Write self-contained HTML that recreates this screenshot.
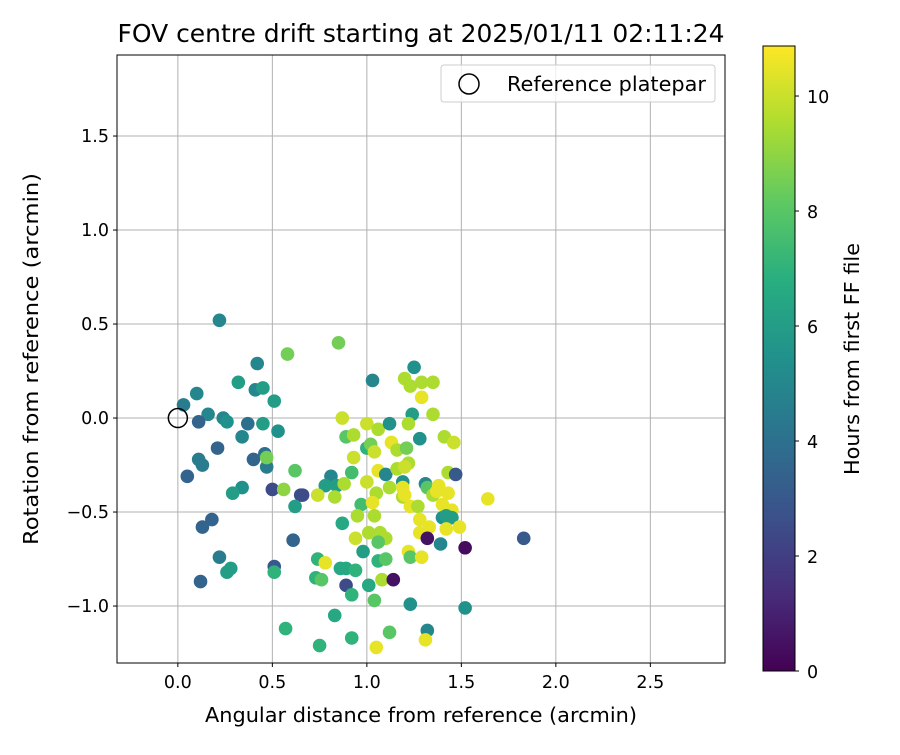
<!DOCTYPE html>
<html><head><meta charset="utf-8"><style>
body{margin:0;background:#fff;}
svg text{font-family:"DejaVu Sans","Liberation Sans",sans-serif;fill:#000;}
</style></head><body>
<svg id="chart" width="900" height="750" xmlns="http://www.w3.org/2000/svg">
<defs>
<linearGradient id="vir" x1="0" y1="1" x2="0" y2="0">
<stop offset="0" stop-color="#440154"/><stop offset="0.125" stop-color="#472d7b"/><stop offset="0.25" stop-color="#3b528b"/><stop offset="0.375" stop-color="#2c728e"/><stop offset="0.5" stop-color="#21918c"/><stop offset="0.625" stop-color="#28ae80"/><stop offset="0.75" stop-color="#5ec962"/><stop offset="0.875" stop-color="#addc30"/><stop offset="1" stop-color="#fde725"/>
</linearGradient>
<clipPath id="pc"><rect x="117" y="55" width="608" height="608"/></clipPath>
</defs>
<rect x="0" y="0" width="900" height="750" fill="#fff"/>
<g id="grid"></g>
<g id="pts" clip-path="url(#pc)"></g>
<rect x="117" y="55" width="608" height="608" fill="none" stroke="#000" stroke-width="1"/>
<g id="ticks"></g>
<text x="421" y="42" font-size="25" text-anchor="middle" textLength="607" lengthAdjust="spacingAndGlyphs">FOV centre drift starting at 2025/01/11 02:11:24</text>
<text x="421" y="722" font-size="20.5" text-anchor="middle" textLength="432" lengthAdjust="spacingAndGlyphs">Angular distance from reference (arcmin)</text>
<text transform="translate(38,359) rotate(-90)" font-size="20.5" text-anchor="middle" textLength="372" lengthAdjust="spacingAndGlyphs">Rotation from reference (arcmin)</text>
<g>
<rect x="441" y="65" width="274" height="37" rx="3" fill="#fff" fill-opacity="0.8" stroke="#ccc"/>
<circle cx="469" cy="84" r="10" fill="none" stroke="#000" stroke-width="1.5"/>
<text x="507" y="91" font-size="20" textLength="199" lengthAdjust="spacingAndGlyphs">Reference platepar</text>
</g>
<rect x="763" y="46" width="32" height="625" fill="url(#vir)" stroke="#000" stroke-width="1"/>
<g id="cbt"></g>
<text transform="translate(859,359) rotate(-90)" font-size="20" text-anchor="middle" textLength="232" lengthAdjust="spacingAndGlyphs">Hours from first FF file</text>
</svg>
<script>
const xVals=[0.22,0.58,0.42,0.32,0.41,0.45,0.10,0.03,0.51,0.16,0.11,0.24,0.26,0.37,0.45,0.53,0.34,0.21,0.11,0.13,0.05,0.40,0.46,0.47,0.47,0.62,0.34,0.29,0.50,0.56,0.65,0.62,0.13,0.18,0.61,0.22,0.28,0.26,0.51,0.51,0.12,0.57,0.75,0.83,0.74,0.78,0.73,0.76,
0.85,1.25,1.03,1.20,1.23,1.29,1.35,1.29,0.87,1.00,1.06,1.12,1.24,1.22,1.35,0.89,0.93,1.28,1.41,1.46,1.00,1.02,1.04,1.13,1.16,1.21,0.93,1.22,1.06,1.10,1.16,1.20,1.43,1.47,0.81,0.92,0.78,0.84,0.88,1.00,0.66,0.74,0.83,1.05,1.12,1.19,1.19,1.31,1.32,1.38,1.43,1.35,1.37,1.19,1.20,0.97,1.03,1.23,1.27,1.40,1.45,0.95,1.04,1.40,1.42,1.45,0.87,1.28,1.33,1.28,1.42,1.49,1.01,1.07,1.10,0.94,1.06,1.32,1.39,1.52,0.98,1.22,1.23,1.29,1.06,1.10,0.86,0.89,0.94,0.89,1.01,1.08,1.14,0.92,1.04,1.23,1.52,1.12,1.32,1.31,0.92,1.05,1.64,1.83];
const yVals=[0.52,0.34,0.29,0.19,0.15,0.16,0.13,0.07,0.09,0.02,-0.02,0.00,-0.02,-0.03,-0.03,-0.07,-0.10,-0.16,-0.22,-0.25,-0.31,-0.22,-0.19,-0.26,-0.21,-0.28,-0.37,-0.40,-0.38,-0.38,-0.41,-0.47,-0.58,-0.54,-0.65,-0.74,-0.80,-0.82,-0.79,-0.82,-0.87,-1.12,-1.21,-1.05,-0.75,-0.77,-0.85,-0.86,
0.40,0.27,0.20,0.21,0.17,0.19,0.19,0.11,0.00,-0.03,-0.06,-0.03,0.02,-0.03,0.02,-0.10,-0.09,-0.11,-0.10,-0.13,-0.16,-0.14,-0.18,-0.13,-0.17,-0.16,-0.21,-0.24,-0.28,-0.30,-0.27,-0.26,-0.29,-0.30,-0.31,-0.29,-0.36,-0.36,-0.35,-0.34,-0.41,-0.41,-0.42,-0.40,-0.37,-0.34,-0.37,-0.35,-0.37,-0.36,-0.40,-0.41,-0.39,-0.42,-0.41,-0.46,-0.45,-0.47,-0.47,-0.46,-0.49,-0.52,-0.52,-0.53,-0.52,-0.53,-0.56,-0.54,-0.58,-0.61,-0.59,-0.58,-0.61,-0.61,-0.64,-0.64,-0.66,-0.64,-0.67,-0.69,-0.71,-0.71,-0.74,-0.74,-0.76,-0.75,-0.80,-0.80,-0.81,-0.89,-0.89,-0.86,-0.86,-0.94,-0.97,-0.99,-1.01,-1.14,-1.13,-1.18,-1.17,-1.22,-0.43,-0.64];
const hours=[5,8.5,5,6,5,6,5,4.5,6,5,3.5,5,5.5,4,6,5.5,5,3.5,4.5,4.5,3.5,3.5,4,4.5,8.5,8,5.5,6,2.5,9,2.5,6,3.5,3.5,3.5,4.5,6,6,3,7,3.5,7,7,6.5,7,10.5,7,8,
8.5,5.5,5,9.5,9.5,9.5,9.5,10.5,10,10,9.5,5.5,6,9.5,9.5,8,9.5,5.5,9.5,10,7,8.5,10,10.5,9.5,8.5,10,9.5,10.5,5,9.5,10,9.5,3,5,7.5,6,6,9.5,10,2.5,10,9.5,9.5,9.5,5.5,10.5,5,8,10.5,10.5,9.5,10.5,9.5,10.5,7.5,10.5,10.5,9.5,10.5,10.5,9.5,9.5,5.5,6,6,6.5,10.5,10.5,10.5,10.5,10.5,9.5,9.5,9.5,10,8,0.5,5,0.3,6,10.5,8,10.5,7,8,6.5,6.5,7,2.5,6.5,9.5,0.5,7,8,5.5,5.5,8,5,10.5,7,10.5,10.5,3];
const xTicks=[0,0.5,1,1.5,2,2.5];
const xTickLabels=["0.0","0.5","1.0","1.5","2.0","2.5"];
const yTicks=[-1,-0.5,0,0.5,1,1.5];
const yTickLabels=["\u22121.0","\u22120.5","0.0","0.5","1.0","1.5"];
const cbTicks=[0,2,4,6,8,10];

const NS="http://www.w3.org/2000/svg";
const xMin=-0.322,xMax=2.895,yMin=-1.303,yMax=1.931,L=117,T=55,W=608,H=608;
const cMin=0,cMax=10.87;
function sx(v){return L+(v-xMin)/(xMax-xMin)*W;}
function sy(v){return T+H-(v-yMin)/(yMax-yMin)*H;}
function cy(v){return 671-(v-cMin)/(cMax-cMin)*625;}
const vir=[[68,1,84],[71,45,123],[59,82,139],[44,114,142],[33,145,140],[40,174,128],[94,201,98],[173,220,48],[253,231,37]];
function color(h){let t=Math.max(0,Math.min(1,(h-cMin)/(cMax-cMin)))*(vir.length-1);let i=Math.min(Math.floor(t),vir.length-2),f=t-i;
const c=vir[i].map((a,k)=>Math.round(a+(vir[i+1][k]-a)*f));return `rgb(${c[0]},${c[1]},${c[2]})`;}
function mk(tag,attrs,parent){const e=document.createElementNS(NS,tag);for(const k in attrs)e.setAttribute(k,attrs[k]);parent.appendChild(e);return e;}
const grid=document.getElementById('grid'),ticks=document.getElementById('ticks'),pts=document.getElementById('pts'),cbt=document.getElementById('cbt');
xTicks.forEach((v,i)=>{const x=sx(v);
const g=mk('line',{x1:x,x2:x,y1:T,y2:T+H,stroke:'#b0b0b0','stroke-width':1},grid);


mk('line',{x1:x,x2:x,y1:T+H,y2:T+H+4,stroke:'#000'},ticks);
const t=mk('text',{x:x,y:T+H+25,'font-size':17.5,'text-anchor':'middle'},ticks);t.textContent=xTickLabels[i];

});
yTicks.forEach((v,i)=>{const y=sy(v);
const g=mk('line',{x1:L,x2:L+W,y1:y,y2:y,stroke:'#b0b0b0','stroke-width':1},grid);


mk('line',{x1:L-4,x2:L,y1:y,y2:y,stroke:'#000'},ticks);
const t=mk('text',{x:L-8,y:y+6,'font-size':17.5,'text-anchor':'end'},ticks);t.textContent=yTickLabels[i];

});
xVals.forEach((v,i)=>{const c=mk('circle',{cx:sx(v),cy:sy(yVals[i]),r:6.8,fill:color(hours[i])},pts);

});
const ref=mk('circle',{cx:sx(0),cy:sy(0),r:9.5,fill:'none',stroke:'#000','stroke-width':1.5},pts);


cbTicks.forEach(v=>{const y=cy(v);
mk('line',{x1:795,x2:799,y1:y,y2:y,stroke:'#000'},cbt);
const t=mk('text',{x:807,y:y+7,'font-size':17.5},cbt);t.textContent=String(v);

});
</script>
</body></html>
